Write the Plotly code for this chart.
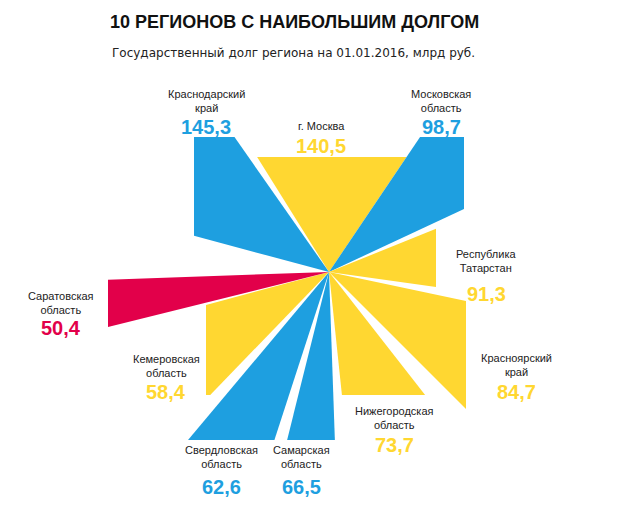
import math
import plotly.graph_objs as go

# data
regions = ["г. Москва", "Московская<br>область", "Республика<br>Татарстан", "Красноярский<br>край",
           "Нижегородская<br>область", "Самарская<br>область", "Свердловская<br>область",
           "Кемеровская<br>область", "Саратовская<br>область", "Краснодарский<br>край"]
debt = [140.5, 98.7, 91.3, 84.7, 73.7, 66.5, 62.6, 58.4, 50.4, 145.3]
kinds = ["y", "b", "y", "y", "y", "b", "b", "y", "r", "b"]

# layout of the star (degrees ccw, clip reach in px, label anchors in px)
angles = [(56, 122), (25, 56), (-8, 22), (-45, -12), (-84, -52), (-104, -88),
          (-130, -108), (-165, -134), (-178, -166), (125, 165)]
reach = [115, 135, 107, 137, 123, 168, 168, 123, 221, 135]
name_pos = [(325, 126), (445, 101), (490, 261), (520, 365), (398, 418), (305, 457),
            (225, 457), (170, 366), (65, 303), (210, 101)]
val_pos = [(325, 146), (445, 127), (490, 294), (520, 392), (398, 445), (305, 487),
           (225, 487), (170, 392), (65, 328), (210, 127)]

colors = {"y": "#ffd731", "b": "#1e9fe0", "r": "#e2004a"}
W, H = 631, 526
DX, DY = -12, 8  # compensate for page offset
cx, cy = 333 + DX, H - 272 + DY


def hit(theta, d):
    c, s = math.cos(math.radians(theta)), math.sin(math.radians(theta))
    t = d / max(abs(c), abs(s))
    return cx + t * c, cy + t * s


fig = go.Figure()
for i, name in enumerate(regions):
    a1, a2 = angles[i]
    d = reach[i]
    pts = [(cx, cy), hit(a1, d)]
    for corner in (-135, -45, 45, 135):
        if a1 < corner < a2:
            pts.append(hit(corner, d))
    pts.append(hit(a2, d))
    xs = [p[0] for p in pts] + [cx]
    ys = [p[1] for p in pts] + [cy]
    col = colors[kinds[i]]
    fig.add_trace(go.Scatter(x=xs, y=ys, fill="toself", fillcolor=col, mode="lines",
                             line=dict(width=0, color=col), hoverinfo="skip", showlegend=False))
    nx, ny = name_pos[i]
    vx, vy = val_pos[i]
    fig.add_annotation(x=nx + DX, y=H - ny + DY, text=name, showarrow=False,
                       font=dict(size=11, color="#222", family="Arial"))
    fig.add_annotation(x=vx + DX, y=H - vy + DY, text="<b>%s</b>" % str(debt[i]).replace(".", ","),
                       showarrow=False, font=dict(size=20, color=col, family="Arial"))

fig.add_annotation(x=298 + DX, y=H - 22 + DY, text="<b>10 РЕГИОНОВ С НАИБОЛЬШИМ ДОЛГОМ</b>",
                   showarrow=False, font=dict(size=18, color="#111", family="Arial"))
fig.add_annotation(x=297 + DX, y=H - 53 + DY, text="Государственный долг региона на 01.01.2016, млрд руб.",
                   showarrow=False, font=dict(size=12, color="#222", family="DejaVu Sans"))

fig.update_layout(width=W, height=H, margin=dict(l=0, r=0, t=0, b=0),
                  plot_bgcolor="white", paper_bgcolor="white",
                  xaxis=dict(range=[0, W], visible=False, fixedrange=True),
                  yaxis=dict(range=[0, H], visible=False, fixedrange=True))
fig.write_html("out.html")
